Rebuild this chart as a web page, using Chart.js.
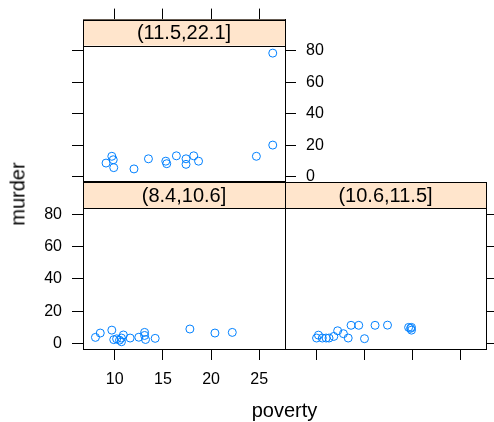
<!DOCTYPE html>
<html>
<head>
<meta charset="utf-8">
<script src="https://cdn.jsdelivr.net/npm/chart.js@4.4.1/dist/chart.umd.min.js"></script>
<style>
  body { margin: 0; background: #fff; }
  #wrap { position: relative; width: 494px; height: 422px; overflow: hidden; }
  canvas { position: absolute; left: 0; top: 0; }
  .lab { position: absolute; font: 20px "Liberation Sans", Arial, sans-serif; color: #000; white-space: nowrap; }
  #xlab { left: 0; width: 569px; top: 399px; text-align: center; }
  #ylab { left: 18px; top: 194px; transform: translate(-50%, -50%) rotate(-90deg); }
</style>
</head>
<body>
<div id="wrap">
  <canvas id="pTop" width="494" height="422"></canvas>
  <canvas id="pLeft" width="494" height="422"></canvas>
  <canvas id="pRight" width="494" height="422"></canvas>
  <div class="lab" id="xlab">poverty</div>
  <div class="lab" id="ylab">murder</div>
</div>
<script>
const stripLabels = ['(11.5,22.1]', '(8.4,10.6]', '(10.6,11.5]'];
const xTicks = [10, 15, 20, 25];
const yTicks = [0, 20, 40, 60, 80];

// panel (11.5,22.1]
const povertyHigh = [9.1, 9.7, 9.85, 9.9, 12.0, 13.5, 15.3, 15.4, 16.4, 17.4, 17.4, 18.2, 18.7, 24.7, 26.4, 26.4];
const murderHigh  = [8.7, 13.0, 10.8, 5.8, 5.0, 11.4, 9.9, 8.3, 13.3, 11.4, 7.9, 13.3, 9.9, 13.0, 20.1, 78.4];

// panel (8.4,10.6]
const povertyLow = [8.0, 8.5, 9.7, 9.9, 10.2, 10.5, 10.7, 10.7, 10.9, 11.6, 12.5, 13.1, 13.1, 13.2, 14.2, 17.8, 20.4, 22.2];
const murderLow  = [3.7, 6.4, 8.2, 2.3, 2.8, 2.0, 1.0, 3.3, 5.2, 3.3, 3.8, 6.8, 4.9, 2.4, 3.1, 8.9, 6.4, 6.8];

// panel (10.6,11.5]
const povertyMid = [10.0, 10.2, 10.6, 11.0, 11.3, 11.8, 12.2, 12.8, 13.3, 13.6, 14.4, 15.0, 16.1, 17.4, 19.6, 19.9, 19.9, 19.8];
const murderMid  = [3.3, 5.1, 3.3, 3.3, 3.3, 4.3, 7.8, 6.0, 3.3, 11.2, 11.2, 2.9, 11.2, 11.3, 9.9, 9.9, 8.2, 9.3];

const FONT = '"Liberation Sans", Arial, sans-serif';
const STRIP_H = 26;

function axis(pos, size, ticksArr, min, max, showLabels, tickLen) {
    const horizontal = pos === 'top' || pos === 'bottom';
    return {
        type: 'linear',
        position: pos,
        min: min,
        max: max,
        afterBuildTicks: s => { s.ticks = ticksArr.map(v => ({ value: v })); },
        afterFit: s => { if (horizontal) s.height = size; else s.width = size; },
        grid: {
            display: tickLen > 0,
            drawOnChartArea: false,
            drawTicks: true,
            tickLength: tickLen,
            tickColor: '#000',
            lineWidth: 1
        },
        border: { display: true, color: '#000', width: 1 },
        ticks: {
            display: showLabels,
            color: '#000',
            font: { family: FONT, size: 16 },
            padding: 10,
            maxRotation: 0,
            autoSkip: false
        }
    };
}

const stripPlugin = {
    id: 'strip',
    afterDatasetsDraw(chart, args, opts) {
        const { ctx, chartArea: a } = chart;
        ctx.save();
        ctx.fillStyle = '#ffe5cc';
        ctx.fillRect(a.left, a.top, a.right - a.left, STRIP_H);
        ctx.strokeStyle = '#000';
        ctx.lineWidth = 1;
        ctx.strokeRect(Math.round(a.left) + 0.5, Math.round(a.top) + 0.5,
            Math.round(a.right - a.left), STRIP_H);
        ctx.fillStyle = '#000';
        ctx.font = '20px ' + FONT;
        ctx.textAlign = 'center';
        ctx.textBaseline = 'middle';
        ctx.fillText(opts.label, (a.left + a.right) / 2, a.top + STRIP_H / 2 + 1);
        ctx.restore();
    }
};

function panel(id, xs, ys, label, yMin, yMax, axes, padding) {
    new Chart(document.getElementById(id), {
        type: 'scatter',
        data: {
            datasets: [{
                data: xs.map((x, i) => ({ x: x, y: ys[i] })),
                pointStyle: 'circle',
                pointRadius: 4,
                pointBorderWidth: 1,
                borderColor: '#0080ff',
                backgroundColor: 'rgba(0,0,0,0)',
                pointHoverRadius: 4
            }]
        },
        options: {
            responsive: false,
            animation: false,
            events: [],
            layout: { padding: padding },
            plugins: { legend: { display: false }, tooltip: { enabled: false }, strip: { label: label } },
            scales: {
                x: axis('bottom', axes.b[0], xTicks, 6.71, 27.67, axes.b[1], axes.b[2]),
                x2: axis('top', axes.t[0], xTicks, 6.71, 27.67, axes.t[1], axes.t[2]),
                y: axis('left', axes.l[0], yTicks, yMin, yMax, axes.l[1], axes.l[2]),
                y2: axis('right', axes.r[0], yTicks, yMin, yMax, axes.r[1], axes.r[2])
            }
        },
        plugins: [stripPlugin]
    });
}

// top panel: plot box x 83..285, y 16..182 (strip included)
panel('pTop', povertyHigh, murderHigh, stripLabels[0], -3.3, 99.65,
    { b: [0, false, 0], t: [11, false, 11], l: [11, false, 11], r: [45, true, 11] },
    { left: 72, right: 164, top: 5, bottom: 240 });

// bottom left: x 83..285, y 182..349
panel('pLeft', povertyLow, murderLow, stripLabels[1], -3.5, 100.07,
    { b: [45, true, 11], t: [0, false, 0], l: [50, true, 11], r: [0, false, 0] },
    { left: 33, right: 209, top: 182, bottom: 28 });

// bottom right: x 285..486, y 182..349
panel('pRight', povertyMid, murderMid, stripLabels[2], -3.5, 100.07,
    { b: [11, false, 11], t: [0, false, 0], l: [0, false, 0], r: [8, false, 11] },
    { left: 285, right: 0, top: 182, bottom: 62 });
</script>
</body>
</html>
